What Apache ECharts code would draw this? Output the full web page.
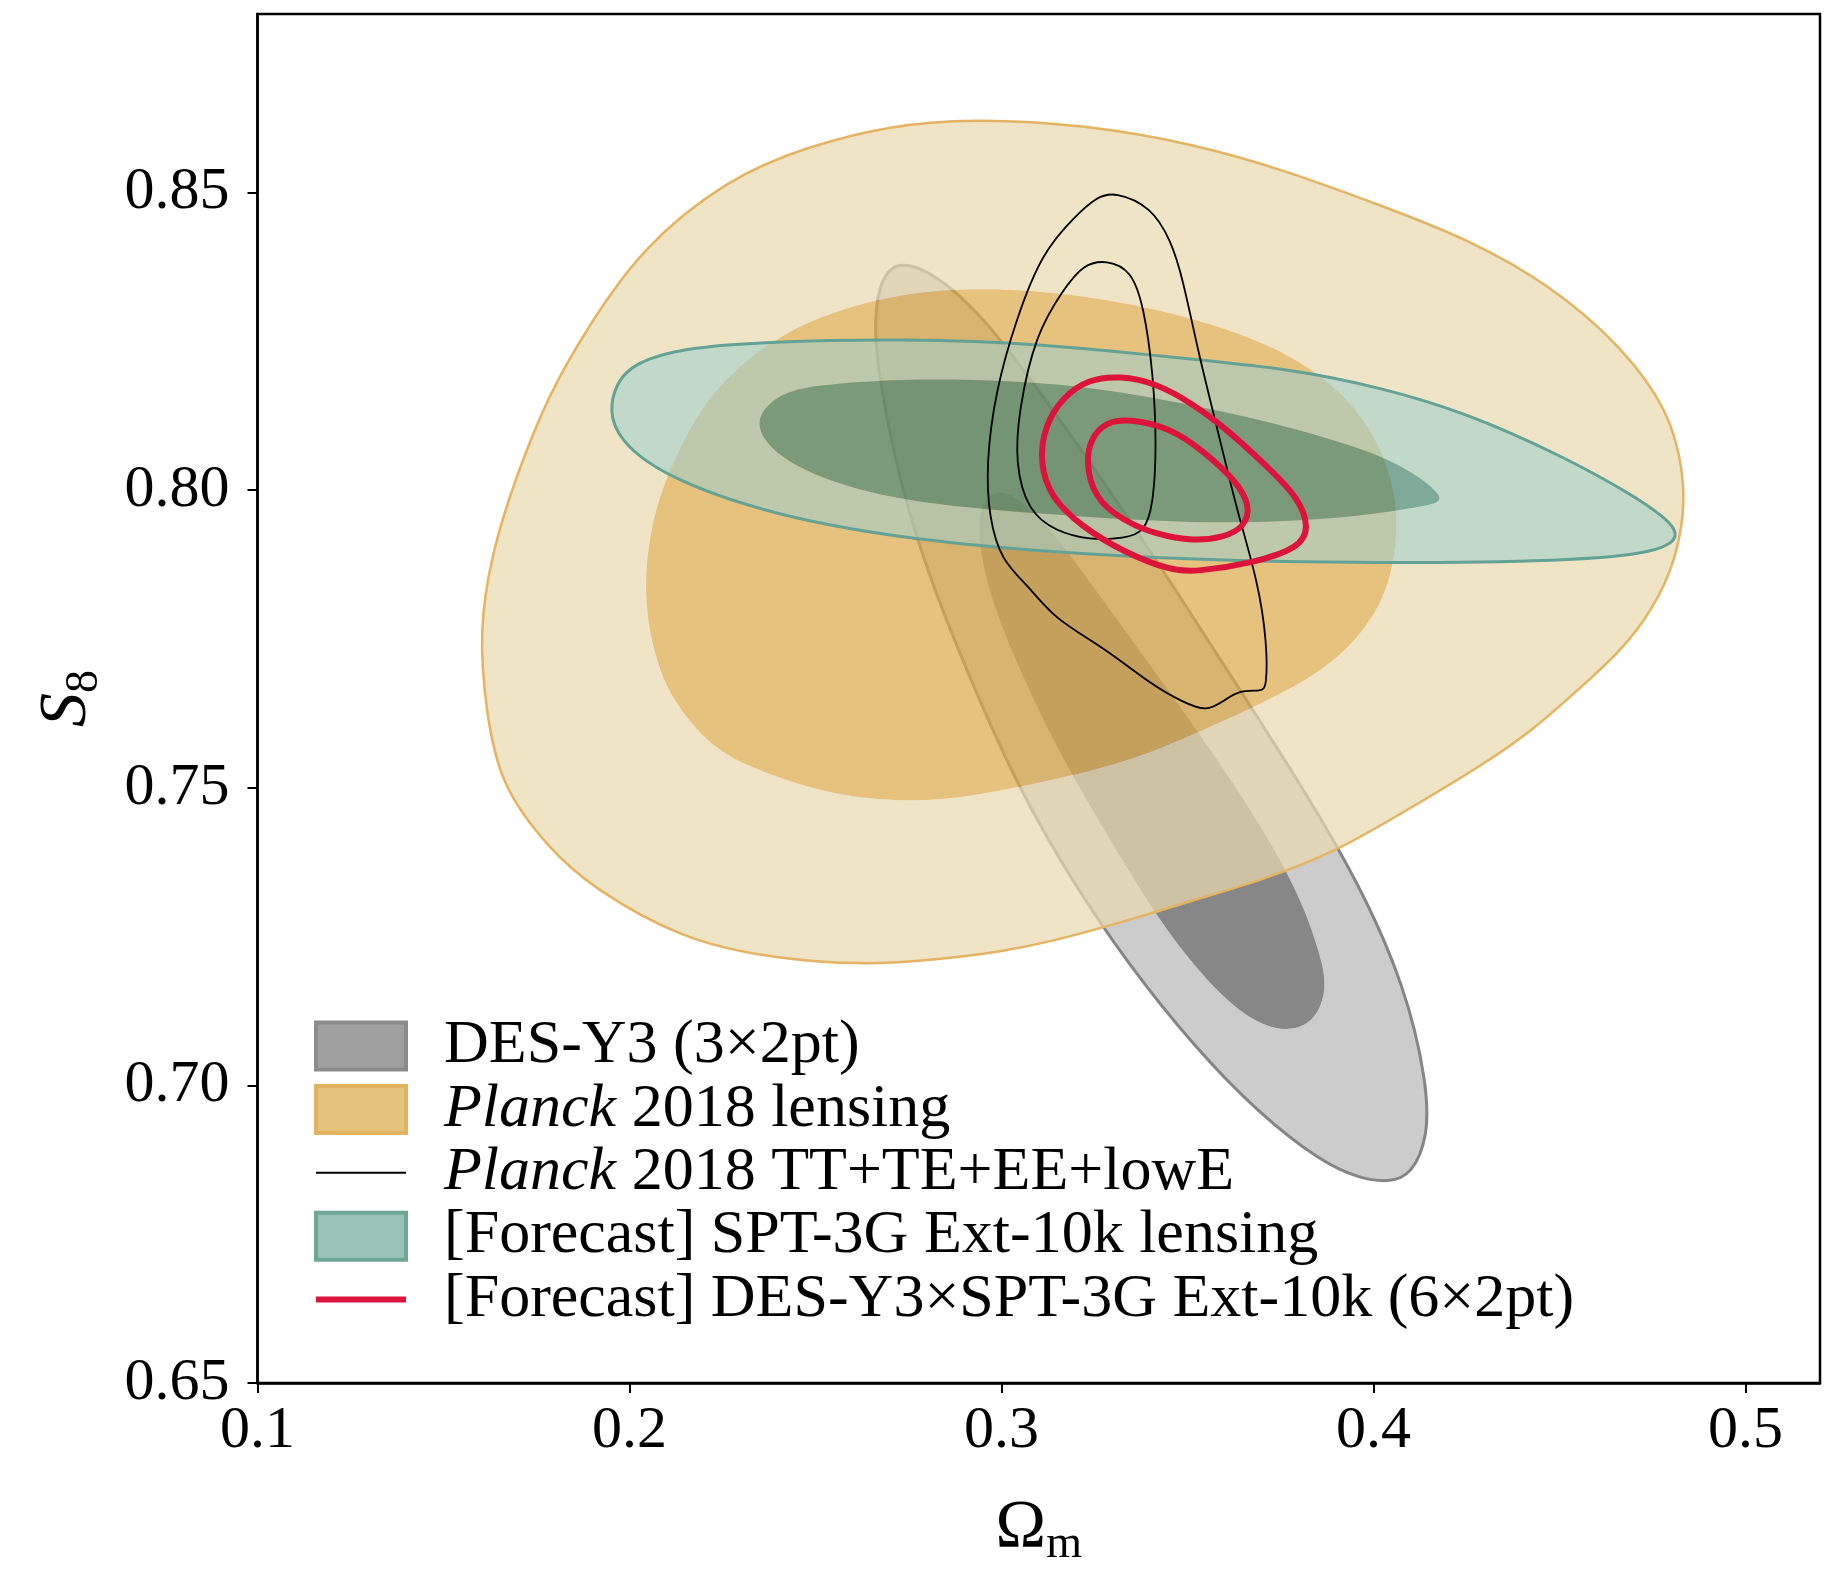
<!DOCTYPE html>
<html lang="en">
<head>
<meta charset="UTF-8">
<title>S8 - Omega_m constraints</title>
<style>
  html, body { margin: 0; padding: 0; background: #fff; }
  #chart { width: 1835px; height: 1573px; }
</style>
<script src="https://cdn.jsdelivr.net/npm/echarts@6/dist/echarts.min.js"></script>
</head>
<body>
<div id="chart"></div>
<script>
// contour outlines, [Omega_m, S8] pairs, going clockwise
const desOuter = [
  [0.2723, 0.8382], [0.2824, 0.8359], [0.2934, 0.8298], [0.3031, 0.8225], [0.3236, 0.8049],
  [0.3440, 0.7859], [0.3648, 0.7657], [0.3802, 0.7506], [0.3956, 0.7341], [0.4079, 0.7167],
  [0.4138, 0.7010], [0.4142, 0.6918], [0.4101, 0.6855], [0.4038, 0.6839], [0.3956, 0.6847],
  [0.3855, 0.6876], [0.3689, 0.6957], [0.3516, 0.7069], [0.3343, 0.7204], [0.3186, 0.7349],
  [0.3044, 0.7506], [0.2925, 0.7671], [0.2814, 0.7843], [0.2730, 0.8010], [0.2679, 0.8167],
  [0.2660, 0.8265], [0.2673, 0.8343]
];
const desInner = [
  [0.2978, 0.8000], [0.3082, 0.7971], [0.3236, 0.7847], [0.3390, 0.7714], [0.3544, 0.7580],
  [0.3698, 0.7435], [0.3802, 0.7314], [0.3852, 0.7225], [0.3871, 0.7167], [0.3843, 0.7114],
  [0.3780, 0.7094], [0.3704, 0.7102], [0.3597, 0.7147], [0.3440, 0.7263], [0.3289, 0.7416],
  [0.3154, 0.7561], [0.3031, 0.7724], [0.2959, 0.7847], [0.2937, 0.7949]
];
const lensOuter = [
  [0.2925, 0.8622], [0.3223, 0.8612], [0.3516, 0.8580], [0.3758, 0.8537], [0.4019, 0.8478],
  [0.4252, 0.8420], [0.4475, 0.8341], [0.4664, 0.8239], [0.4786, 0.8133], [0.4827, 0.8039],
  [0.4833, 0.7961], [0.4799, 0.7863], [0.4726, 0.7780], [0.4648, 0.7722], [0.4560, 0.7671],
  [0.4428, 0.7598], [0.4277, 0.7533], [0.4082, 0.7460], [0.3890, 0.7392], [0.3704, 0.7347],
  [0.3531, 0.7314], [0.3327, 0.7275], [0.3138, 0.7243], [0.2994, 0.7225], [0.2824, 0.7212],
  [0.2623, 0.7204], [0.2384, 0.7216], [0.2145, 0.7249], [0.1906, 0.7333], [0.1786, 0.7400],
  [0.1660, 0.7506], [0.1616, 0.7635], [0.1601, 0.7763], [0.1632, 0.7892], [0.1695, 0.8020],
  [0.1786, 0.8161], [0.1893, 0.8276], [0.2038, 0.8404], [0.2264, 0.8518], [0.2478, 0.8575],
  [0.2698, 0.8610]
];
const lensInner = [
  [0.2984, 0.8339], [0.3264, 0.8322], [0.3516, 0.8288], [0.3736, 0.8239], [0.3909, 0.8167],
  [0.4013, 0.8078], [0.4057, 0.7990], [0.4060, 0.7912], [0.4028, 0.7820], [0.3925, 0.7729],
  [0.3767, 0.7663], [0.3579, 0.7608], [0.3358, 0.7549], [0.3138, 0.7514], [0.2918, 0.7486],
  [0.2742, 0.7478], [0.2547, 0.7490], [0.2368, 0.7525], [0.2233, 0.7565], [0.2126, 0.7641],
  [0.2072, 0.7716], [0.2041, 0.7824], [0.2060, 0.7941], [0.2107, 0.8031], [0.2179, 0.8122],
  [0.2289, 0.8206], [0.2478, 0.8284], [0.2730, 0.8329]
];
const sptOuter = [
  [0.1950, 0.8133], [0.1969, 0.8180], [0.2019, 0.8212], [0.2145, 0.8237], [0.2384, 0.8249],
  [0.2742, 0.8253], [0.3104, 0.8245], [0.3425, 0.8225], [0.3758, 0.8204], [0.4019, 0.8171],
  [0.4252, 0.8127], [0.4497, 0.8059], [0.4682, 0.7996], [0.4825, 0.7931], [0.4745, 0.7896],
  [0.4497, 0.7882], [0.4003, 0.7878], [0.3513, 0.7884], [0.3104, 0.7898], [0.2742, 0.7920],
  [0.2384, 0.7961], [0.2101, 0.8025], [0.1981, 0.8084]
];
const sptInner = [
  [0.2343, 0.8116], [0.2399, 0.8157], [0.2503, 0.8176], [0.2742, 0.8186], [0.2984, 0.8184],
  [0.3264, 0.8171], [0.3635, 0.8127], [0.3881, 0.8086], [0.4066, 0.8045], [0.4186, 0.7988],
  [0.4126, 0.7973], [0.3881, 0.7951], [0.3513, 0.7945], [0.3104, 0.7961], [0.2742, 0.7982],
  [0.2503, 0.8024], [0.2384, 0.8069]
];
const ttOuter = [
  [0.3308, 0.8498], [0.3399, 0.8473], [0.3453, 0.8418], [0.3487, 0.8353], [0.3531, 0.8227],
  [0.3579, 0.8106], [0.3632, 0.7969], [0.3686, 0.7849], [0.3711, 0.7747], [0.3711, 0.7676],
  [0.3695, 0.7663], [0.3642, 0.7663], [0.3594, 0.7645], [0.3550, 0.7631], [0.3487, 0.7645],
  [0.3399, 0.7676], [0.3274, 0.7735], [0.3148, 0.7784], [0.3075, 0.7837], [0.3003, 0.7884],
  [0.2969, 0.7957], [0.2962, 0.8047], [0.2987, 0.8167], [0.3041, 0.8286], [0.3110, 0.8394],
  [0.3195, 0.8457], [0.3255, 0.8490]
];
const ttInner = [
  [0.3283, 0.8384], [0.3346, 0.8365], [0.3381, 0.8304], [0.3406, 0.8196], [0.3415, 0.8076],
  [0.3406, 0.7980], [0.3381, 0.7933], [0.3327, 0.7920], [0.3236, 0.7918], [0.3148, 0.7933],
  [0.3075, 0.7969], [0.3041, 0.8047], [0.3050, 0.8137], [0.3094, 0.8257], [0.3164, 0.8333],
  [0.3220, 0.8376]
];
const jointOuter = [
  [0.3318, 0.8190], [0.3415, 0.8178], [0.3516, 0.8143], [0.3604, 0.8102], [0.3711, 0.8041],
  [0.3792, 0.7988], [0.3821, 0.7939], [0.3792, 0.7904], [0.3667, 0.7878], [0.3531, 0.7865],
  [0.3453, 0.7867], [0.3327, 0.7898], [0.3220, 0.7939], [0.3138, 0.7988], [0.3107, 0.8047],
  [0.3119, 0.8106], [0.3167, 0.8155], [0.3236, 0.8184]
];
const jointInner = [
  [0.3346, 0.8118], [0.3453, 0.8102], [0.3541, 0.8065], [0.3623, 0.8018], [0.3664, 0.7975],
  [0.3648, 0.7939], [0.3594, 0.7922], [0.3516, 0.7916], [0.3415, 0.7927], [0.3327, 0.7951],
  [0.3255, 0.7988], [0.3230, 0.8047], [0.3245, 0.8088], [0.3283, 0.8112]
];

const xTicks = [0.1, 0.2, 0.3, 0.4, 0.5];
const yTicks = [0.65, 0.70, 0.75, 0.80, 0.85];
const names = [
  'DES-Y3 (3×2pt)',
  'Planck 2018 lensing',
  'Planck 2018 TT+TE+EE+lowE',
  '[Forecast] SPT-3G Ext-10k lensing',
  '[Forecast] DES-Y3×SPT-3G Ext-10k (6×2pt)'
];

const serif = "'Liberation Serif', 'DejaVu Serif', serif";

// closed cubic b-spline near the pixel points (control points pushed out a bit
// so the curve stays close to them), written as svg path data
function smoothPath(pts) {
  const n = pts.length;
  const k = 0.65;
  const q = pts.map((p, i) => {
    const a = pts[(i - 1 + n) % n], b = pts[(i + 1) % n];
    return [p[0] - k * (a[0] - 2 * p[0] + b[0]) / 6, p[1] - k * (a[1] - 2 * p[1] + b[1]) / 6];
  });
  const knot = i => {
    const a = q[(i - 1 + n) % n], b = q[i % n], c = q[(i + 1) % n];
    return [(a[0] + 4 * b[0] + c[0]) / 6, (a[1] + 4 * b[1] + c[1]) / 6];
  };
  const s = knot(0);
  let d = 'M' + s[0] + ',' + s[1];
  for (let i = 0; i < n; i++) {
    const b = q[i], c = q[(i + 1) % n];
    const e = knot(i + 1);
    d += 'C' + (2 * b[0] + c[0]) / 3 + ',' + (2 * b[1] + c[1]) / 3 + ',' +
      (b[0] + 2 * c[0]) / 3 + ',' + (b[1] + 2 * c[1]) / 3 + ',' + e[0] + ',' + e[1];
  }
  return d + 'Z';
}

function signedArea(pts) {
  let a = 0;
  for (let i = 0; i < pts.length; i++) {
    const p = pts[i], q = pts[(i + 1) % pts.length];
    a += p[0] * q[1] - q[0] * p[1];
  }
  return a;
}

function toPixels(api, ring) {
  return ring.map(p => api.coord(p));
}

// two filled levels: the outer band (with a hole) and the core, plus the outer edge line
function filledContour(name, outer, inner, st) {
  return {
    name: name,
    type: 'custom',
    data: outer,
    clip: true,
    silent: true,
    renderItem: function (params, api) {
      if (params.dataIndex !== 0) return null;
      const o = toPixels(api, outer);
      const i = toPixels(api, inner);
      const hole = signedArea(o) * signedArea(i) > 0 ? i.slice().reverse() : i;
      return {
        type: 'group',
        children: [
          { type: 'path', shape: { pathData: smoothPath(o) + smoothPath(hole) }, style: { fill: st.band, stroke: 'none' } },
          { type: 'path', shape: { pathData: smoothPath(i) }, style: { fill: st.core, stroke: 'none' } },
          { type: 'path', shape: { pathData: smoothPath(o) }, style: { fill: 'none', stroke: st.edge, lineWidth: st.edgeWidth } }
        ]
      };
    }
  };
}

function lineContour(name, outer, inner, color, width) {
  return {
    name: name,
    type: 'custom',
    data: outer,
    clip: true,
    silent: true,
    renderItem: function (params, api) {
      if (params.dataIndex !== 0) return null;
      return {
        type: 'group',
        children: [outer, inner].map(r => ({
          type: 'path',
          shape: { pathData: smoothPath(toPixels(api, r)) },
          style: { fill: 'none', stroke: color, lineWidth: width, lineJoin: 'round' }
        }))
      };
    }
  };
}

const rectIcon = 'path://M0,0H90V47H0Z';
const chart = echarts.init(document.getElementById('chart'));

chart.setOption({
  animation: false,
  backgroundColor: '#fff',
  grid: {
    left: 257.5, right: 15, top: 14, bottom: 184,
    show: true, borderColor: '#000', borderWidth: 2.5, backgroundColor: 'transparent'
  },
  legend: {
    orient: 'vertical',
    left: 314,
    top: 1015,
    padding: 0,
    itemWidth: 90,
    itemHeight: 47,
    itemGap: 1.4,
    selectedMode: false,
    formatter: name => name.replace('Planck', '{it|Planck}'),
    textStyle: {
      fontFamily: serif, fontSize: 62, color: '#000', lineHeight: 50,
      padding: [0, 0, 0, 33],
      rich: { it: { fontFamily: serif, fontSize: 62, fontStyle: 'italic', lineHeight: 50, color: '#000' } }
    },
    data: [
      { name: names[0], icon: rectIcon, itemStyle: { color: '#a0a0a0', borderColor: '#8c8c8c', borderWidth: 4 } },
      { name: names[1], icon: rectIcon, itemStyle: { color: '#e6c37d', borderColor: '#e3b260', borderWidth: 4 } },
      { name: names[2], icon: 'path://M0,0H90V2H0Z', itemStyle: { color: '#000', borderWidth: 0 } },
      { name: names[3], icon: rectIcon, itemStyle: { color: '#99c2b6', borderColor: '#6fa797', borderWidth: 4 } },
      { name: names[4], icon: 'path://M0,0H90V6H0Z', itemStyle: { color: '#dc143c', borderWidth: 0 } }
    ]
  },
  xAxis: {
    type: 'value',
    min: 0.1,
    max: 0.52,
    interval: 0.1,
    axisLine: { show: true, lineStyle: { color: '#000', width: 2.5 } },
    axisTick: { show: true, length: 10, customValues: xTicks, lineStyle: { color: '#000', width: 2 } },
    axisLabel: {
      customValues: xTicks, formatter: v => v.toFixed(1),
      fontFamily: serif, fontSize: 60, color: '#000', margin: 18
    },
    splitLine: { show: false },
    name: '{o|Ω}{s|m}',
    nameLocation: 'middle',
    nameGap: 105,
    nameTextStyle: {
      color: '#000',
      rich: {
        o: { fontFamily: serif, fontSize: 68, lineHeight: 80, verticalAlign: 'middle', color: '#000' },
        s: { fontFamily: serif, fontSize: 46, verticalAlign: 'bottom', color: '#000' }
      }
    }
  },
  yAxis: {
    type: 'value',
    min: 0.65,
    max: 0.88,
    interval: 0.05,
    axisLine: { show: true, lineStyle: { color: '#000', width: 2.5 } },
    axisTick: { show: true, length: 10, customValues: yTicks, lineStyle: { color: '#000', width: 2 } },
    axisLabel: {
      customValues: yTicks, formatter: v => v.toFixed(2),
      fontFamily: serif, fontSize: 60, color: '#000', margin: 28
    },
    splitLine: { show: false },
    name: '{it|S}{s|8}',
    nameLocation: 'middle',
    nameGap: 150,
    nameTextStyle: {
      color: '#000',
      rich: {
        it: { fontFamily: serif, fontSize: 68, fontStyle: 'italic', lineHeight: 80, verticalAlign: 'middle', color: '#000' },
        s: { fontFamily: serif, fontSize: 46, verticalAlign: 'bottom', color: '#000' }
      }
    }
  },
  series: [
    filledContour(names[0], desOuter, desInner,
      { band: '#cccccc', core: '#878787', edge: '#858585', edgeWidth: 3 }),
    filledContour(names[1], lensOuter, lensInner,
      { band: 'rgba(234,218,177,0.72)', core: 'rgba(220,170,76,0.72)', edge: '#e5b462', edgeWidth: 2.5 }),
    filledContour(names[3], sptOuter, sptInner,
      { band: 'rgba(161,207,204,0.58)', core: 'rgba(44,125,119,0.58)', edge: '#64a295', edgeWidth: 3 }),
    lineContour(names[2], ttOuter, ttInner, '#000', 1.8),
    lineContour(names[4], jointOuter, jointInner, '#dc143c', 6)
  ]
});
</script>
</body>
</html>
